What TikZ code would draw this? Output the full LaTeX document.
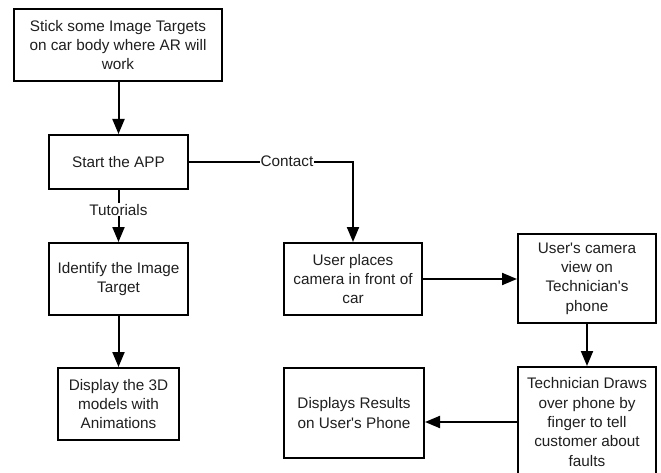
\documentclass[tikz,border=0pt]{standalone}
\usepackage{fontspec}
\setmainfont{Liberation Sans}
\usetikzlibrary{arrows.meta}
\newcommand{\apos}{\textquotesingle}
\begin{document}
\begin{tikzpicture}[x=1pt,y=-1pt,
  box/.style={draw=black,line width=2pt,fill=white,align=center,inner sep=0pt,
    font=\fontsize{15.3}{19.3}\selectfont,text=black!88},
  conn/.style={line width=2pt,draw=black,-{Triangle[length=15pt,width=12pt]}},
  lbl/.style={fill=white,inner sep=1pt,font=\fontsize{15.3}{19.3}\selectfont,text=black!88}]
\clip (0,0) rectangle (661,473);
\fill[white] (0,0) rectangle (661,473);
\node[box,minimum width=208pt,minimum height=72pt] (b1) at (118,45) {Stick some Image Targets\\on car body where AR will\\work};
\node[box,minimum width=139pt,minimum height=54pt] (b2) at (118.5,162) {Start the APP};
\node[box,minimum width=139pt,minimum height=72pt] (b3) at (118.5,279) {Identify the Image\\Target};
\node[box,minimum width=121pt,minimum height=72pt] (b4) at (118.5,404) {Display the 3D\\models with\\Animations};
\node[box,minimum width=138pt,minimum height=72pt] (b5) at (353,279) {User places\\camera in front of\\car};
\node[box,minimum width=138pt,minimum height=89pt] (b6) at (587,278.5) {User\apos s camera\\view on\\Technician\apos s\\phone};
\node[box,minimum width=138pt,minimum height=110pt] (b7) at (587,422) {Technician Draws\\over phone by\\finger to tell\\customer about\\faults};
\node[box,minimum width=140pt,minimum height=90pt] (b8) at (354,413) {Displays Results\\on User\apos s Phone};
\coordinate (c1) at (353,162);
\draw[conn] (b1.south -| b2.north) -- (b2.north);
\draw[conn] (b2) -- node[lbl,pos=0.38] (tut) {Tutorials} (b3);
\draw[conn] (b2.east) -- (c1) -- (b5.north);
\node[lbl] (con) at (287,161) {Contact};
\draw[conn] (b3) -- (b4);
\draw[conn] (b5.east |- 0,279) -- (b6.west |- 0,279);
\draw[conn] (b6) -- (b7);
\draw[conn] (b7.west) -- (b8.east |- b7.west);
\end{tikzpicture}
\end{document}
